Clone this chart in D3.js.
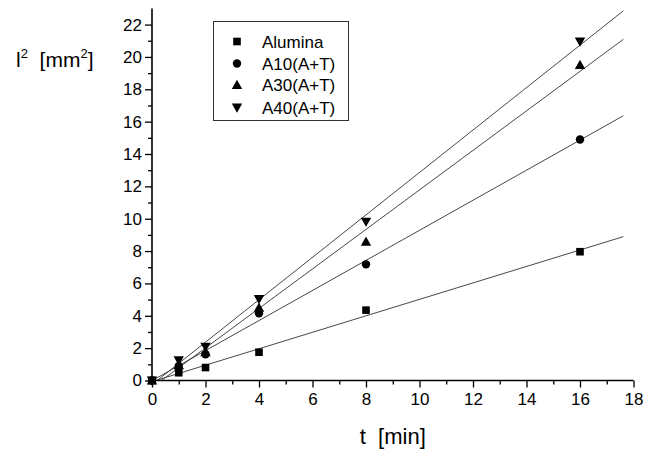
<!DOCTYPE html>
<html><head><meta charset="utf-8">
<script src="https://cdn.jsdelivr.net/npm/d3@7"></script>
<style>body{margin:0;background:#fff}svg{display:block}text{font-family:"Liberation Sans",Arial,Helvetica,sans-serif;fill:#000;white-space:pre}</style>
</head><body>
<svg id="c" width="655" height="451"></svg>
<script>
const times = [0, 1, 2, 4, 8, 16];
const seriesNames = ["Alumina", "A10(A+T)", "A30(A+T)", "A40(A+T)"];
const alumina = [0, 0.48, 0.8, 1.75, 4.35, 7.96];
const a10 = [0, 0.9, 1.62, 4.15, 7.18, 14.9];
const a30 = [0, 0.95, 1.75, 4.5, 8.58, 19.5];
const a40 = [0, 1.25, 2.08, 5.03, 9.82, 20.95];
const symbolTypes = ["square", "circle", "triangle", "triangleDown"];
const xTicks = [0, 2, 4, 6, 8, 10, 12, 14, 16, 18];
const yTicks = [0, 2, 4, 6, 8, 10, 12, 14, 16, 18, 20, 22];
const fitEnd = 17.62;

const seriesValues = [alumina, a10, a30, a40];
const svg = d3.select("#c");
const x = d3.scaleLinear().domain([0, 18]).range([152, 633.5]);
const y = d3.scaleLinear().domain([0, 23]).range([380.5, 8.4]);

svg.append("clipPath").attr("id", "plot").append("rect")
  .attr("x", x(0)).attr("y", y(23)).attr("width", x(18) - x(0)).attr("height", y(0) - y(23));

const xAxis = d3.axisBottom(x).tickValues(xTicks).tickSize(7).tickPadding(4).tickFormat(d3.format("d"));
const xMinor = d3.axisBottom(x).tickValues(d3.range(1, 18, 2)).tickSize(4).tickFormat("");
const yAxis = d3.axisLeft(y).tickValues(yTicks).tickSize(7).tickPadding(3).tickFormat(d3.format("d"));
const yMinor = d3.axisLeft(y).tickValues(d3.range(1, 23, 2)).tickSize(4).tickFormat("");

function styleAxis(g) {
  g.select(".domain").attr("stroke", "#000").attr("stroke-width", 1.6);
  g.selectAll(".tick line").attr("stroke", "#000").attr("stroke-width", 1.3);
  g.selectAll(".tick text").style("font-size", "17px").attr("fill", "#000");
}
const gx = svg.append("g").attr("transform", `translate(0,${y(0)})`).call(xAxis).call(styleAxis);
gx.selectAll(".tick text").attr("dy", "0.82em");
svg.append("g").attr("transform", `translate(0,${y(0)})`).call(xMinor).call(styleAxis).select(".domain").remove();
const gy = svg.append("g").attr("transform", `translate(${x(0)},0)`).call(yAxis).call(styleAxis);
svg.append("g").attr("transform", `translate(${x(0)},0)`).call(yMinor).call(styleAxis).select(".domain").remove();
gx.select(".domain").attr("d", `M${x(0)},0H${x(18)}`);
gy.select(".domain").attr("d", `M0,${y(23)}V${y(0)}`);

function fit(xs, ys) {
  const mx = d3.mean(xs), my = d3.mean(ys);
  let sxy = 0, sxx = 0;
  xs.forEach((v, i) => { sxy += (v - mx) * (ys[i] - my); sxx += (v - mx) * (v - mx); });
  const b = sxy / sxx;
  return { b, a: my - b * mx };
}
const lineGen = d3.line().x(d => x(d[0])).y(d => y(d[1]));
const fitsG = svg.append("g").attr("clip-path", "url(#plot)");
seriesValues.forEach(vals => {
  const f = fit(times, vals);
  fitsG.append("path")
    .attr("d", lineGen([[0, f.a], [fitEnd, f.a + f.b * fitEnd]]))
    .attr("stroke", "#333").attr("stroke-width", 0.9).attr("fill", "none");
});

function marker(g, type, cx, cy) {
  if (type === "square") {
    g.append("rect").attr("x", cx - 3.8).attr("y", cy - 3.8).attr("width", 7.6).attr("height", 7.6).attr("fill", "#000");
  } else if (type === "circle") {
    g.append("circle").attr("cx", cx).attr("cy", cy).attr("r", 4.2).attr("fill", "#000");
  } else if (type === "triangle") {
    g.append("path").attr("d", `M${cx},${cy - 5.2}L${cx + 5.2},${cy + 4}L${cx - 5.2},${cy + 4}Z`).attr("fill", "#000");
  } else {
    g.append("path").attr("d", `M${cx},${cy + 5.2}L${cx + 5.2},${cy - 4}L${cx - 5.2},${cy - 4}Z`).attr("fill", "#000");
  }
}
const ptsG = svg.append("g");
seriesValues.forEach((vals, si) => {
  vals.forEach((v, i) => marker(ptsG, symbolTypes[si], x(times[i]), y(v)));
});

const lg = svg.append("g");
lg.append("rect").attr("x", 213.5).attr("y", 21.5).attr("width", 135).attr("height", 99)
  .attr("fill", "#fff").attr("stroke", "#333").attr("stroke-width", 1);
const rowY = [41.5, 63.5, 85, 107.5];
seriesNames.forEach((n, i) => {
  marker(lg, symbolTypes[i], 237, rowY[i]);
  lg.append("text").attr("x", 262).attr("y", rowY[i]).attr("dy", "0.36em")
    .style("font-size", "17px").text(n);
});

svg.append("text").attr("x", x(9)).attr("y", 444).attr("text-anchor", "middle")
  .style("font-size", "22px").text("t  [min]");
const yl = svg.append("text").attr("x", 16).attr("y", 67).style("font-size", "21px");
yl.append("tspan").text("l");
yl.append("tspan").attr("dy", -9).style("font-size", "13px").text("2");
yl.append("tspan").attr("dy", 9).text("  [mm");
yl.append("tspan").attr("dy", -9).style("font-size", "13px").text("2");
yl.append("tspan").attr("dy", 9).text("]");
</script>
</body></html>
